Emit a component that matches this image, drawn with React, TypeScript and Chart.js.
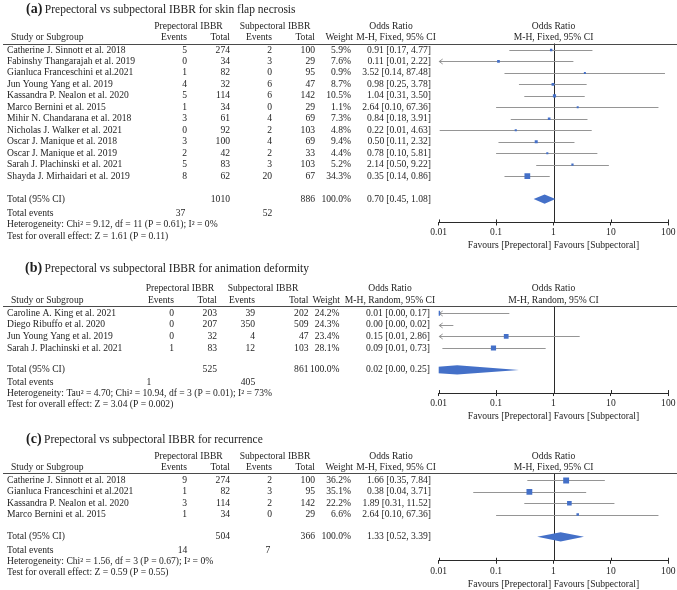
import React, { useEffect, useRef } from 'react';
import { Chart, registerables } from 'chart.js';

Chart.register(...registerables);

// ---------------- (a) skin flap necrosis ----------------
const titleA = 'Prepectoral vs subpectoral IBBR for skin flap necrosis';
const methodA = 'M-H, Fixed, 95% CI';
const studiesA = [
  'Catherine J. Sinnott et al. 2018',
  'Fabinshy Thangarajah et al. 2019',
  'Gianluca Franceschini et al.2021',
  'Jun Young Yang et al. 2019',
  'Kassandra P. Nealon et al. 2020',
  'Marco Bernini et al. 2015',
  'Mihir N. Chandarana et al. 2018',
  'Nicholas J. Walker et al. 2021',
  'Oscar J. Manique et al. 2018',
  'Oscar J. Manique et al. 2019',
  'Sarah J. Plachinski et al. 2021',
  'Shayda J. Mirhaidari et al. 2019',
];
const prepEventsA = [5, 0, 1, 4, 5, 1, 3, 0, 3, 2, 5, 8];
const prepTotalA = [274, 34, 82, 32, 114, 34, 61, 92, 100, 42, 83, 62];
const subEventsA = [2, 3, 0, 6, 6, 0, 4, 2, 4, 2, 3, 20];
const subTotalA = [100, 29, 95, 47, 142, 29, 69, 103, 69, 33, 103, 67];
const weightA = [5.9, 7.6, 0.9, 8.7, 10.5, 1.1, 7.3, 4.8, 9.4, 4.4, 5.2, 34.3];
const orA = [0.91, 0.11, 3.52, 0.98, 1.04, 2.64, 0.84, 0.22, 0.5, 0.78, 2.14, 0.35];
const loA = [0.17, 0.0054, 0.14, 0.25, 0.31, 0.1, 0.18, 0.0104, 0.11, 0.1, 0.5, 0.14];
const hiA = [4.77, 2.22, 87.48, 3.78, 3.5, 67.36, 3.91, 4.63, 2.32, 5.81, 9.22, 0.86];
const pooledA = [0.7, 0.45, 1.08];
const totalWeightA = 100.0;
const hetA = 'Heterogeneity: Chi² = 9.12, df = 11 (P = 0.61); I² = 0%';
const testA = 'Test for overall effect: Z = 1.61 (P = 0.11)';

// ---------------- (b) animation deformity ----------------
const titleB = 'Prepectoral vs subpectoral IBBR for animation deformity';
const methodB = 'M-H, Random, 95% CI';
const studiesB = [
  'Caroline A. King et al. 2021',
  'Diego Ribuffo et al. 2020',
  'Jun Young Yang et al. 2019',
  'Sarah J. Plachinski et al. 2021',
];
const prepEventsB = [0, 0, 0, 1];
const prepTotalB = [203, 207, 32, 83];
const subEventsB = [39, 350, 4, 12];
const subTotalB = [202, 509, 47, 103];
const weightB = [24.2, 24.3, 23.4, 28.1];
const orB = [0.0096, 0.0012, 0.15, 0.09];
const loB = [0.0006, 0.0001, 0.0078, 0.0116];
const hiB = [0.17, 0.018, 2.86, 0.73];
const pooledB = [0.021, 0.0016, 0.25];
const totalWeightB = 100.0;
const hetB = 'Heterogeneity: Tau² = 4.70; Chi² = 10.94, df = 3 (P = 0.01); I² = 73%';
const testB = 'Test for overall effect: Z = 3.04 (P = 0.002)';

// ---------------- (c) recurrence ----------------
const titleC = 'Prepectoral vs subpectoral IBBR for recurrence';
const methodC = 'M-H, Fixed, 95% CI';
const studiesC = [
  'Catherine J. Sinnott et al. 2018',
  'Gianluca Franceschini et al.2021',
  'Kassandra P. Nealon et al. 2020',
  'Marco Bernini et al. 2015',
];
const prepEventsC = [9, 1, 3, 1];
const prepTotalC = [274, 82, 114, 34];
const subEventsC = [2, 3, 2, 0];
const subTotalC = [100, 95, 142, 29];
const weightC = [36.2, 35.1, 22.2, 6.6];
const orC = [1.66, 0.38, 1.89, 2.64];
const loC = [0.35, 0.04, 0.31, 0.1];
const hiC = [7.84, 3.71, 11.52, 67.36];
const pooledC = [1.33, 0.52, 3.39];
const totalWeightC = 100.0;
const hetC = 'Heterogeneity: Chi² = 1.56, df = 3 (P = 0.67); I² = 0%';
const testC = 'Test for overall effect: Z = 0.59 (P = 0.55)';

// ---------------- axis ----------------
const axisTicks = [0.01, 0.1, 1, 10, 100];
const axisTitle = 'Favours [Prepectoral] Favours [Subpectoral]';

// ---------------- styling / layout ----------------
const FAM = '"Liberation Serif", "Times New Roman", serif';
const BODY = `9.6px ${FAM}`;
const TEXT = '#1e1e1e';
const BLUE = '#4470C8';
const CI_GREY = '#959595';
const DARK = '#2a2a2a';
const PAGE_W = 677;
const PLOT_L = 438.7;
const PLOT_R = 669.3;
const AXIS_H = 28.8;

type Cols = {
  name: number; studyHead: number; prepEv: number; prepTot: number; subEv: number; subTot: number;
  weight: number; weightHead: number; orText: number; prepHead: number; subHead: number;
  orHead: number; mhHead: number; evPrep: number; evSub: number; titleX: number;
};
type Layout = {
  top: number; height: number; titleBase: number; headLine: number; axisY: number;
  row0: number; rowStep: number; totalRow: number; eventsRow: number; hetRow: number; testRow: number;
  cols: Cols;
};
type Panel = {
  letter: string; title: string; method: string; studies: string[];
  prepEvents: number[]; prepTotal: number[]; subEvents: number[]; subTotal: number[];
  weight: number[]; or: number[]; lo: number[]; hi: number[]; pooled: number[]; totalWeight: number;
  het: string; test: string; layout: Layout;
};

const colsAC: Cols = {
  name: 7, studyHead: 11, prepEv: 187, prepTot: 230, subEv: 272, subTot: 315, weight: 351, weightHead: 353,
  orText: 431, prepHead: 188.5, subHead: 275, orHead: 391, mhHead: 396, evPrep: 180.5, evSub: 267.5, titleX: 26,
};
const colsB: Cols = {
  name: 7, studyHead: 11, prepEv: 174, prepTot: 217, subEv: 255, subTot: 308.5, weight: 339.5, weightHead: 340,
  orText: 430, prepHead: 180, subHead: 263, orHead: 390, mhHead: 390, evPrep: 149, evSub: 248, titleX: 25,
};

const layoutA: Layout = {
  top: 0, height: 258, titleBase: 12.5, headLine: 43.5, axisY: 222.7,
  row0: 50, rowStep: 11.48, totalRow: 13, eventsRow: 14.3, hetRow: 15.25, testRow: 16.25,
  cols: { ...colsAC, evPrep: 180.5, evSub: 267.5 },
};
const layoutB: Layout = {
  top: 258, height: 168, titleBase: 272, headLine: 306, axisY: 393.3,
  row0: 313.3, rowStep: 11.6, totalRow: 4.9, eventsRow: 6.0, hetRow: 6.97, testRow: 7.92, cols: colsB,
};
const layoutC: Layout = {
  top: 426, height: 164, titleBase: 442.5, headLine: 473.3, axisY: 561,
  row0: 480.5, rowStep: 11.4, totalRow: 4.96, eventsRow: 6.15, hetRow: 7.1, testRow: 8.12,
  cols: { ...colsAC, evPrep: 182.5, evSub: 268 },
};

const panels: Panel[] = [
  { letter: 'a', title: titleA, method: methodA, studies: studiesA, prepEvents: prepEventsA, prepTotal: prepTotalA,
    subEvents: subEventsA, subTotal: subTotalA, weight: weightA, or: orA, lo: loA, hi: hiA, pooled: pooledA,
    totalWeight: totalWeightA, het: hetA, test: testA, layout: layoutA },
  { letter: 'b', title: titleB, method: methodB, studies: studiesB, prepEvents: prepEventsB, prepTotal: prepTotalB,
    subEvents: subEventsB, subTotal: subTotalB, weight: weightB, or: orB, lo: loB, hi: hiB, pooled: pooledB,
    totalWeight: totalWeightB, het: hetB, test: testB, layout: layoutB },
  { letter: 'c', title: titleC, method: methodC, studies: studiesC, prepEvents: prepEventsC, prepTotal: prepTotalC,
    subEvents: subEventsC, subTotal: subTotalC, weight: weightC, or: orC, lo: loC, hi: hiC, pooled: pooledC,
    totalWeight: totalWeightC, het: hetC, test: testC, layout: layoutC },
];

const sum = (a: number[]) => a.reduce((s, v) => s + v, 0);
const ciText = (o: number, l: number, h: number) => `${o.toFixed(2)} [${l.toFixed(2)}, ${h.toFixed(2)}]`;

function txt(ctx: CanvasRenderingContext2D, s: string, x: number, y: number, align: CanvasTextAlign = 'left') {
  ctx.font = BODY;
  ctx.fillStyle = TEXT;
  ctx.textAlign = align;
  ctx.textBaseline = 'middle';
  ctx.fillText(s, x, y);
}

function makePlugin(p: Panel) {
  const L = p.layout;
  const c = L.cols;
  return {
    id: 'forest_' + p.letter,
    beforeDatasetsDraw(chart: any) {
      const { ctx, chartArea: a } = chart;
      const xs = chart.scales.x;
      const ys = chart.scales.y;
      ctx.save();
      // line of no effect
      const x1 = Math.round(xs.getPixelForValue(1)) + 0.5;
      ctx.strokeStyle = DARK;
      ctx.lineWidth = 1;
      ctx.beginPath();
      ctx.moveTo(x1, a.top);
      ctx.lineTo(x1, a.bottom);
      ctx.stroke();
      // clip to plot
      ctx.beginPath();
      ctx.rect(a.left, a.top, a.right - a.left, a.bottom - a.top);
      ctx.clip();
      ctx.strokeStyle = CI_GREY;
      p.lo.forEach((lo, i) => {
        const y = Math.round(ys.getPixelForValue(i)) + 0.5;
        const xl = Math.max(xs.getPixelForValue(lo), a.left);
        const xr = Math.min(xs.getPixelForValue(p.hi[i]), a.right);
        ctx.beginPath();
        ctx.moveTo(xl, y);
        ctx.lineTo(xr, y);
        ctx.stroke();
        if (lo < xs.min) {
          ctx.beginPath();
          ctx.moveTo(a.left + 4, y - 2.5);
          ctx.lineTo(a.left + 0.5, y);
          ctx.lineTo(a.left + 4, y + 2.5);
          ctx.stroke();
        }
      });
      // pooled diamond
      const [po, pl, ph] = p.pooled;
      const yT = ys.getPixelForValue(L.totalRow);
      ctx.fillStyle = BLUE;
      ctx.beginPath();
      ctx.moveTo(xs.getPixelForValue(pl), yT);
      ctx.lineTo(xs.getPixelForValue(po), yT - 4.6);
      ctx.lineTo(xs.getPixelForValue(ph), yT);
      ctx.lineTo(xs.getPixelForValue(po), yT + 4.6);
      ctx.closePath();
      ctx.fill();
      ctx.restore();
    },
    afterDraw(chart: any) {
      const { ctx, chartArea: a } = chart;
      const xs = chart.scales.x;
      const ys = chart.scales.y;
      ctx.save();
      // upper half of tick marks
      ctx.strokeStyle = DARK;
      ctx.lineWidth = 1;
      axisTicks.forEach((v) => {
        const x = Math.round(xs.getPixelForValue(v)) + 0.5;
        ctx.beginPath();
        ctx.moveTo(x, a.bottom - 3);
        ctx.lineTo(x, a.bottom);
        ctx.stroke();
      });
      // header rule
      const hy = Math.round(a.top) + 0.5;
      ctx.strokeStyle = '#4a4a4a';
      ctx.beginPath();
      ctx.moveTo(3, hy);
      ctx.lineTo(PAGE_W, hy);
      ctx.stroke();

      // title
      const tb = L.titleBase - L.top;
      ctx.fillStyle = TEXT;
      ctx.textBaseline = 'alphabetic';
      ctx.textAlign = 'left';
      ctx.font = `bold 14px ${FAM}`;
      const lab = `(${p.letter})`;
      ctx.fillText(lab, c.titleX, tb);
      const lw = ctx.measureText(lab).width;
      ctx.font = `11.5px ${FAM}`;
      ctx.fillText(p.title, c.titleX + lw + 2.5, tb);

      // headers
      const h1 = a.top - 17.3;
      const h2 = a.top - 6;
      const plotMid = (a.left + a.right) / 2;
      txt(ctx, 'Prepectoral IBBR', c.prepHead, h1, 'center');
      txt(ctx, 'Subpectoral IBBR', c.subHead, h1, 'center');
      txt(ctx, 'Odds Ratio', c.orHead, h1, 'center');
      txt(ctx, 'Odds Ratio', plotMid, h1, 'center');
      txt(ctx, 'Study or Subgroup', c.studyHead, h2, 'left');
      txt(ctx, 'Events', c.prepEv, h2, 'right');
      txt(ctx, 'Total', c.prepTot, h2, 'right');
      txt(ctx, 'Events', c.subEv, h2, 'right');
      txt(ctx, 'Total', c.subTot, h2, 'right');
      txt(ctx, 'Weight', c.weightHead, h2, 'right');
      txt(ctx, p.method, c.mhHead, h2, 'center');
      txt(ctx, p.method, plotMid, h2, 'center');

      // study rows
      p.studies.forEach((s, i) => {
        const y = ys.getPixelForValue(i);
        txt(ctx, s, c.name, y, 'left');
        txt(ctx, String(p.prepEvents[i]), c.prepEv, y, 'right');
        txt(ctx, String(p.prepTotal[i]), c.prepTot, y, 'right');
        txt(ctx, String(p.subEvents[i]), c.subEv, y, 'right');
        txt(ctx, String(p.subTotal[i]), c.subTot, y, 'right');
        txt(ctx, `${p.weight[i].toFixed(1)}%`, c.weight, y, 'right');
        txt(ctx, ciText(p.or[i], p.lo[i], p.hi[i]), c.orText, y, 'right');
      });

      // totals
      const yT = ys.getPixelForValue(L.totalRow);
      txt(ctx, 'Total (95% CI)', c.name, yT, 'left');
      txt(ctx, String(sum(p.prepTotal)), c.prepTot, yT, 'right');
      txt(ctx, String(sum(p.subTotal)), c.subTot, yT, 'right');
      txt(ctx, `${p.totalWeight.toFixed(1)}%`, c.weight, yT, 'right');
      txt(ctx, ciText(p.pooled[0], p.pooled[1], p.pooled[2]), c.orText, yT, 'right');
      const yE = ys.getPixelForValue(L.eventsRow);
      txt(ctx, 'Total events', c.name, yE, 'left');
      txt(ctx, String(sum(p.prepEvents)), c.evPrep, yE, 'center');
      txt(ctx, String(sum(p.subEvents)), c.evSub, yE, 'center');
      txt(ctx, p.het, c.name, ys.getPixelForValue(L.hetRow), 'left');
      txt(ctx, p.test, c.name, ys.getPixelForValue(L.testRow), 'left');
      ctx.restore();
    },
  };
}

function ForestPanel({ panel }: { panel: Panel }) {
  const ref = useRef<HTMLCanvasElement>(null);
  const L = panel.layout;
  useEffect(() => {
    if (!ref.current) return;
    const sizes = panel.weight.map((w) => Math.max(2, 0.98 * Math.sqrt(w)) / Math.SQRT2);
    const chart = new Chart(ref.current, {
      type: 'scatter',
      data: {
        datasets: [
          {
            data: panel.or.map((v, i) => ({ x: v, y: i })),
            pointStyle: 'rect',
            pointRadius: sizes,
            backgroundColor: BLUE,
            borderWidth: 0,
            pointBorderWidth: 0,
          } as any,
        ],
      },
      options: {
        responsive: false,
        animation: false,
        events: [],
        layout: {
          padding: {
            left: PLOT_L,
            right: PAGE_W - PLOT_R,
            top: L.headLine - L.top,
            bottom: L.top + L.height - L.axisY - AXIS_H,
          },
        },
        plugins: { legend: { display: false }, tooltip: { enabled: false }, title: { display: false } },
        scales: {
          x: {
            type: 'logarithmic',
            min: 0.01,
            max: 100,
            position: 'bottom',
            afterBuildTicks: (axis: any) => {
              axis.ticks = axisTicks.map((v) => ({ value: v }));
            },
            ticks: {
              callback: (v: any) => String(v),
              font: { family: FAM, size: 9.6 },
              color: TEXT,
              padding: 1.5,
              maxRotation: 0,
              autoSkip: false,
            },
            grid: { drawOnChartArea: false, tickLength: 3, color: DARK, lineWidth: 1 },
            border: { display: true, color: DARK, width: 1 },
            title: {
              display: true,
              text: axisTitle,
              font: { family: FAM, size: 9.6 },
              color: TEXT,
              padding: { top: 0, bottom: 0 },
            },
          },
          y: {
            type: 'linear',
            reverse: true,
            min: (L.headLine - L.row0) / L.rowStep,
            max: (L.axisY - L.row0) / L.rowStep,
            display: false,
          },
        },
      } as any,
      plugins: [makePlugin(panel)],
    });
    return () => chart.destroy();
  }, [panel]);
  return (
    <canvas
      ref={ref}
      width={PAGE_W}
      height={L.height}
      style={{ display: 'block', width: PAGE_W, height: L.height }}
    />
  );
}

export default function App() {
  return (
    <div style={{ position: 'absolute', left: 0, top: 0, width: PAGE_W, height: 590, overflow: 'hidden', background: '#fff' }}>
      {panels.map((p) => (
        <ForestPanel key={p.letter} panel={p} />
      ))}
    </div>
  );
}
